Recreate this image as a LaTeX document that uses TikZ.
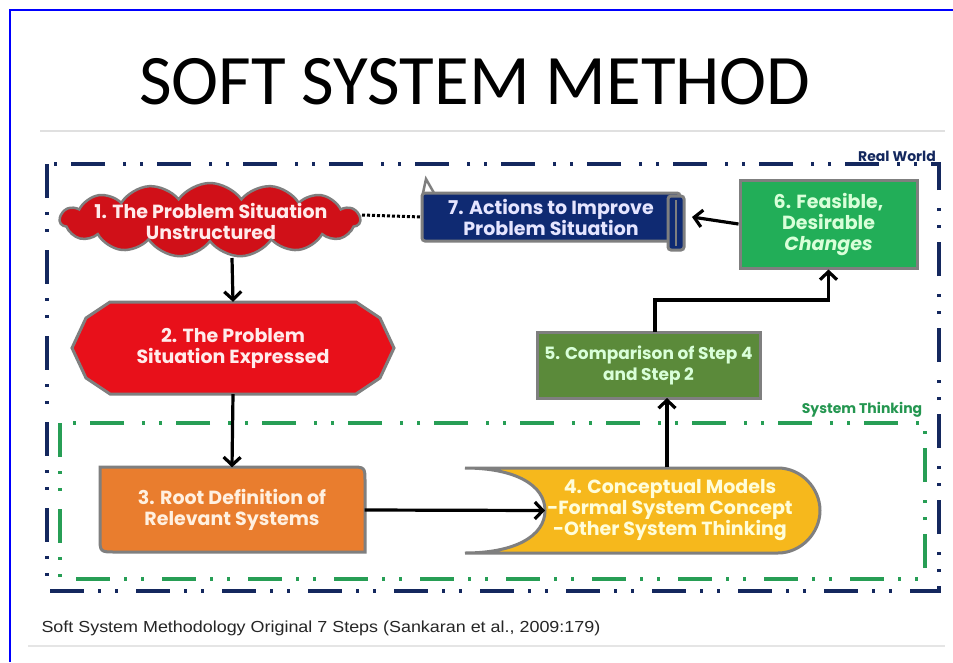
\documentclass[tikz,border=0pt]{standalone}
\usepackage{fontspec}
\usepackage{graphicx}
\setmainfont{Liberation Sans}
\newfontfamily\titlefont{Carlito}
\newfontfamily\boxfont{Poppins}
\usetikzlibrary{shapes.symbols,arrows.meta,calc}
\definecolor{navyc}{HTML}{14285E}
\definecolor{greenf}{HTML}{2BB05E}
\definecolor{redc}{HTML}{E8101A}
\definecolor{redd}{HTML}{D01018}
\definecolor{orangec}{HTML}{E97D2E}
\definecolor{yellowc}{HTML}{F6B81C}
\definecolor{navybox}{HTML}{0F2A72}
\definecolor{green6}{HTML}{22AE58}
\definecolor{olive}{HTML}{5B8A3A}
\definecolor{bord}{HTML}{7F7F7F}
\tikzset{
  boxtxt/.style={font=\boxfont\bfseries\fontsize{19}{21}\selectfont, align=center, text=white},
  arr/.style={line width=3.2pt, -{Straight Barb[length=8pt,width=17pt]}},
  framedash/.style={line width=3.5pt, dash pattern=on 34pt off 14pt on 3pt off 14pt on 3pt off 18pt},
  border/.style={draw=bord, line width=3pt}
}
\begin{document}
\begin{tikzpicture}[x=1pt,y=-1pt]
\useasboundingbox (0,0) rectangle (953,662);
\fill[white] (0,0) rectangle (953,662);
\draw[blue, line width=2pt] (10,662) -- (10,10) -- (953,10);
\node[font=\titlefont\fontsize{71}{80}\selectfont] (title) at (475,82) {SOFT SYSTEM METHOD};
\draw[black!12, line width=1.5pt] (40,131) -- (945,131);
% frames
\draw[framedash, draw=navyc] (47,164) rectangle (939,591);
\draw[framedash, draw=greenf!90!black] (60,423) rectangle (925,579);
\node[font=\boxfont\bfseries\fontsize{14}{16}\selectfont, text=navyc] (rw) at (897,156) {Real World};
\node[font=\boxfont\bfseries\fontsize{14}{16}\selectfont, text=greenf!85!black] (st) at (862,410) {System Thinking};
% node 1 cloud
\node[cloud, cloud puffs=15, cloud puff arc=110, aspect=4.3, draw=bord, line width=2.5pt, fill=redd,
      minimum width=300pt, minimum height=74pt, inner sep=0pt] (n1) at (210,220) {};
\node[boxtxt, text=white!92!red] (t1) at (211,221) {1. The Problem Situation\\Unstructured};
% node 2 octagon
\draw[border, fill=redc] (72,348) -- (86,318) -- (110,302) -- (356,302) -- (380,318) -- (394,348) -- (380,378) -- (356,394) -- (110,394) -- (86,378) -- cycle;
\node[boxtxt, text=white!92!red, minimum width=320pt, minimum height=92pt] (n2) at (233,348) {2. The Problem\\Situation Expressed};
% node 3
\draw[border, fill=orangec] (100,467) -- (350,467) .. controls (365,467) .. (365,482) -- (365,552) -- (116,552) .. controls (100,552) .. (100,537) -- cycle;
\node[boxtxt, text=white!88!orange, minimum width=265pt, minimum height=85pt] (n3) at (232,510) {3. Root Definition of\\Relevant Systems};
% node 4
\draw[border, fill=yellowc] (465,468) -- (778,468) .. controls (801,468) and (820,488) .. (820,510.5) .. controls (820,533) and (801,553) .. (778,553) -- (465,553) .. controls (515,553) and (545,536) .. (545,510.5) .. controls (545,485) and (515,468) .. (465,468) -- cycle;
\node[boxtxt, text=white!85!yellow, minimum width=280pt, minimum height=85pt] (n4) at (670,510) {4. Conceptual Models\\-Formal System Concept\\-Other System Thinking};
\coordinate (c4) at (545,510.5);
% node 5
\node[border, fill=olive, minimum width=223pt, minimum height=66pt, boxtxt, font=\boxfont\bfseries\fontsize{17}{21}\selectfont, text=white!85!green, inner sep=1pt] (n5) at (648.5,365) {5. Comparison of Step 4\\and Step 2};
% node 6
\node[border, fill=green6, minimum width=177pt, minimum height=88pt, boxtxt, text=white!85!green] (n6) at (828.5,224) {6. Feasible,\\Desirable\\\textit{Changes}};
% node 7 scroll
\draw[draw=bord, line width=2.5pt] (423,193) -- (426,179) -- (434,193);
\draw[border, fill=navybox, rounded corners=3pt] (422,193) rectangle (680,241);
\draw[border, fill=navybox, rounded corners=3pt] (668,196) rectangle (684,250);
\draw[bord, line width=1.5pt] (676,200) -- (676,246);
\node[boxtxt, text=white!90!blue, minimum width=258pt, minimum height=48pt] (n7) at (551,217) {7. Actions to Improve\\Problem Situation};
% connectors
\draw[arr] (232,258) -- (n2.north);
\draw[arr] (n2.south) -- (n3.north);
\draw[arr] (n3.east) -- (c4);
\draw[arr] (n4.north -| 667,0) -- (667,398);
\draw[arr] (655,332) -- ++(0,-32) -| (n6.south);
\draw[arr] (n6.west) -- (692,217);
\draw[line width=3pt, dotted] (362,215) -- (n7.west);
% caption
\node[anchor=west, font=\fontsize{16}{18}\selectfont, text=black!85] (cap) at (38,628) {\scalebox{1.12}[1]{Soft System Methodology Original 7 Steps (Sankaran et al., 2009:179)}};
\draw[black!10, line width=1.5pt] (28,646) -- (945,646);
\end{tikzpicture}
\end{document}
